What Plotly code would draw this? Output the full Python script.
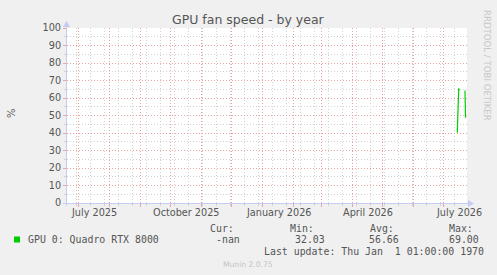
import plotly.graph_objects as go

# ---- data ----
times = ["2026-07-14 19:00", "2026-07-16 05:00", "2026-07-16 19:00", "2026-07-19 00:00",
         "2026-07-22 12:00", "2026-07-23 00:00"]
fan_speed = [40.2, 65.5, 64.3, None, 64.3, 48.7]

month_label_dates = ["2025-07-16 12:00", "2025-10-16 12:00", "2026-01-16 12:00",
                     "2026-04-16 00:00", "2026-07-16 12:00"]
month_label_texts = ["July 2025", "October 2025", "January 2026", "April 2026", "July 2026"]

series_name = "GPU 0: Quadro RTX 8000"
stat_heads = ["Cur:", "Min:", "Avg:", "Max:"]
stat_vals = ["-nan", "32.03", "56.66", "69.00"]

x_range = ["2025-06-19 12:00", "2026-07-24 12:00"]

# ---- layout geometry (pixels) ----
W, H = 497, 275
L, R, T, B = 67, 30, 28, 72
PW, PH = W - L - R, H - T - B


def px(x):
    return (x - L) / PW


def py(y):
    return (H - B - y) / PH


GREEN = "#00cc00"
TXT = "#555555"
MGRID = "#eaa3a3"
GRID = "#d2d2d2"
AXIS = "#c6cbf2"
SANS = "DejaVu Sans"
MONO = "DejaVu Sans Mono"

fig = go.Figure()
fig.add_trace(go.Scatter(x=times, y=fan_speed, mode="lines",
                         line=dict(color=GREEN, width=1.2), connectgaps=False,
                         showlegend=False, hoverinfo="skip"))

fig.update_layout(
    width=W, height=H,
    margin=dict(l=L, r=R, t=T, b=B, autoexpand=False),
    paper_bgcolor="#f0f0f0", plot_bgcolor="#ffffff",
    showlegend=False,
    xaxis=dict(
        type="date", range=x_range,
        showticklabels=False,
        tick0="2025-07-01", dtick="M1",
        showgrid=True, gridcolor=MGRID, griddash="1px,2px", gridwidth=1,
        ticks="outside", ticklen=3, tickcolor=MGRID,
        minor=dict(tick0="2025-06-29", dtick=14 * 86400000, showgrid=True,
                   gridcolor=GRID, griddash="1px,2px", gridwidth=1,
                   ticks="outside", ticklen=2, tickcolor=GRID),
        showline=True, linecolor=AXIS, linewidth=1,
        zeroline=False, fixedrange=True,
    ),
    yaxis=dict(
        range=[0, 100], tick0=0, dtick=10,
        showgrid=True, gridcolor=MGRID, griddash="1px,2px", gridwidth=1,
        ticks="outside", ticklen=3, tickcolor=MGRID,
        minor=dict(dtick=5, showgrid=True, gridcolor=GRID, griddash="1px,2px",
                   gridwidth=1, ticks="outside", ticklen=2, tickcolor=GRID),
        tickfont=dict(family=SANS, size=9.7, color=TXT),
        showline=True, linecolor=AXIS, linewidth=1,
        zeroline=False, fixedrange=True,
    ),
)

ann = []
# title
ann.append(dict(text="GPU fan speed - by year", x=px(248), y=py(19), xref="paper", yref="paper",
                xanchor="center", yanchor="middle", showarrow=False,
                font=dict(family=SANS, size=12.5, color=TXT)))
# y label
ann.append(dict(text="%", x=px(11), y=py(113), xref="paper", yref="paper", textangle=-90,
                xanchor="center", yanchor="middle", showarrow=False,
                font=dict(family=SANS, size=10, color=TXT)))
# watermark
ann.append(dict(text="RRDTOOL / TOBI OETIKER", x=px(487), y=py(65), xref="paper", yref="paper",
                textangle=90, xanchor="center", yanchor="middle", showarrow=False,
                font=dict(family=SANS, size=8.6, color="#c8c8c8")))
# month labels
for d, t in zip(month_label_dates, month_label_texts):
    ann.append(dict(text=t, x=d, y=0, xref="x", yref="paper", yshift=-9,
                    xanchor="center", yanchor="middle", showarrow=False,
                    font=dict(family=SANS, size=9.7, color=TXT)))
# legend
ann.append(dict(text=series_name, x=px(26), y=py(239.5), xref="paper", yref="paper",
                xanchor="left", yanchor="middle", showarrow=False,
                font=dict(family=MONO, size=9.9, color=TXT)))
head_x = [208.3, 287.7, 368.3, 446.7]
val_x = [214.3, 293.3, 367.0, 447.3]
for hx, h in zip(head_x, stat_heads):
    ann.append(dict(text=h, x=px(hx), y=py(228.3), xref="paper", yref="paper",
                    xanchor="left", yanchor="middle", showarrow=False,
                    font=dict(family=MONO, size=9.9, color=TXT)))
for vx, v in zip(val_x, stat_vals):
    ann.append(dict(text=v, x=px(vx), y=py(239.5), xref="paper", yref="paper",
                    xanchor="left", yanchor="middle", showarrow=False,
                    font=dict(family=MONO, size=9.9, color=TXT)))
ann.append(dict(text="Last update: Thu Jan  1 01:00:00 1970".replace("  ", "\u00a0 "),
                x=px(261.7), y=py(251), xref="paper", yref="paper",
                xanchor="left", yanchor="middle", showarrow=False,
                font=dict(family=MONO, size=9.9, color=TXT)))
ann.append(dict(text="Munin 2.0.75", x=px(248), y=py(264.5), xref="paper", yref="paper",
                xanchor="center", yanchor="middle", showarrow=False,
                font=dict(family=SANS, size=7.6, color="#c4c4c4")))
fig.update_layout(annotations=ann)

shapes = []
# legend swatch
shapes.append(dict(type="rect", xref="paper", yref="paper", x0=px(14), x1=px(20),
                   y0=py(242.5), y1=py(236.5), fillcolor=GREEN, line=dict(width=0)))
# axis extensions and arrows
shapes.append(dict(type="line", xref="paper", yref="paper", x0=px(63), x1=px(469),
                   y0=py(203.5), y1=py(203.5), line=dict(color=AXIS, width=1)))
shapes.append(dict(type="line", xref="paper", yref="paper", x0=px(66.5), x1=px(66.5),
                   y0=py(206), y1=py(25), line=dict(color=AXIS, width=1)))
shapes.append(dict(type="path", xref="paper", yref="paper",
                   path=f"M {px(468)} {py(200)} L {px(474)} {py(203.5)} L {px(468)} {py(207)} Z",
                   fillcolor=AXIS, line=dict(width=0)))
shapes.append(dict(type="path", xref="paper", yref="paper",
                   path=f"M {px(63)} {py(27)} L {px(66.5)} {py(21)} L {px(70)} {py(27)} Z",
                   fillcolor=AXIS, line=dict(width=0)))
fig.update_layout(shapes=shapes)

fig.write_html("out.html", config={"displayModeBar": False})
